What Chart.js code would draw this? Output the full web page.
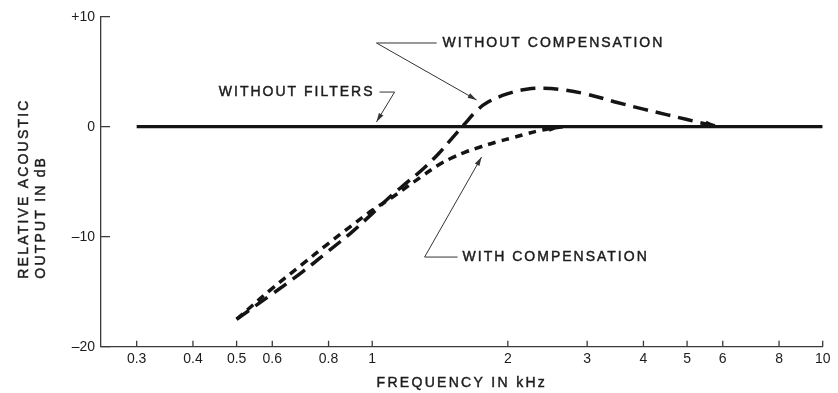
<!DOCTYPE html>
<html>
<head>
<meta charset="utf-8">
<script src="https://cdn.jsdelivr.net/npm/chart.js@4.4.0/dist/chart.umd.min.js"></script>
<style>
  html, body { margin: 0; padding: 0; background: #ffffff; }
  #wrap { width: 838px; height: 393px; }
</style>
</head>
<body>
<div id="wrap"><canvas id="chart" width="838" height="393"></canvas></div>
<script>
// Frequency response data (kHz, dB)
const freqFlat = [0.3, 10];
const dbFlat = [0, 0];

const freqNoComp = [0.5, 0.6, 0.7, 0.8, 0.9, 1.0, 1.1, 1.2, 1.3, 1.4, 1.5, 1.6, 1.7, 1.8, 2.0, 2.2, 2.4, 2.6, 3.0, 3.5, 4.0, 4.5, 5.0, 5.5, 5.9];
const dbNoComp = [-17.5, -15.2, -13.2, -11.3, -9.6, -7.9, -6.3, -5.0, -3.8, -2.5, -1.1, 0.2, 1.4, 2.2, 3.0, 3.4, 3.5, 3.4, 2.95, 2.2, 1.6, 1.1, 0.65, 0.25, 0];

const freqComp = [0.5, 0.6, 0.7, 0.8, 0.9, 1.0, 1.1, 1.2, 1.3, 1.4, 1.5, 1.6, 1.75, 1.9, 2.05, 2.2, 2.35, 2.5, 2.65];
const dbComp = [-17.5, -14.7, -12.5, -10.6, -9.0, -7.6, -6.5, -5.4, -4.4, -3.5, -2.85, -2.35, -1.8, -1.35, -1.0, -0.65, -0.35, -0.15, 0];

// Axis ticks
const xTickValues = [0.3, 0.4, 0.5, 0.6, 0.8, 1, 2, 3, 4, 5, 6, 8, 10];
const xTickLabels = ['0.3', '0.4', '0.5', '0.6', '0.8', '1', '2', '3', '4', '5', '6', '8', '10'];
const yTickValues = [-20, -10, 0, 10];
const yTickLabels = ['\u201320', '\u201310', '0', '+10'];

// Axis titles
const xTitle = 'FREQUENCY IN kHz';
const yTitleLines = ['RELATIVE ACOUSTIC', 'OUTPUT IN dB'];

// Callout labels, placed in data coordinates (kHz, dB)
const callouts = [
  { text: 'WITHOUT COMPENSATION', at: [1.433, 7.61], align: 'left',
    leader: [[1.390, 7.61], [1.022, 7.61], [1.705, 2.43]] },
  { text: 'WITHOUT FILTERS', at: [1.012, 3.15], align: 'right',
    leader: [[1.038, 3.15], [1.121, 3.15], [1.022, 0.43]] },
  { text: 'WITH COMPENSATION', at: [1.587, -11.85], align: 'left',
    leader: [[1.547, -11.85], [1.307, -11.85], [1.749, -2.75]] }
];

const INK = '#141414';
const AXIS = '#3a3a3a';
const TEXT = '#1c1c1c';
const FONT = "'Liberation Sans', Arial, sans-serif";

const toXY = (xs, ys) => xs.map((v, i) => ({ x: v, y: ys[i] }));

function arrowHead(ctx, fromX, fromY, tipX, tipY, len, half) {
  const ang = Math.atan2(tipY - fromY, tipX - fromX);
  const bx = tipX - Math.cos(ang) * len, by = tipY - Math.sin(ang) * len;
  const nx = -Math.sin(ang) * half, ny = Math.cos(ang) * half;
  ctx.beginPath();
  ctx.moveTo(tipX, tipY);
  ctx.lineTo(bx + nx, by + ny);
  ctx.lineTo(bx - nx, by - ny);
  ctx.closePath();
  ctx.fill();
}

// Lettering with a slightly heavier stroke, like stencil-guided text
function letter(ctx, str, px, py) {
  ctx.fillText(str, px, py);
  ctx.strokeText(str, px, py);
}

const inkPlugin = {
  id: 'ink',
  afterDraw(chart) {
    const { ctx, chartArea: a } = chart;
    const x = chart.scales.x, y = chart.scales.y;
    ctx.save();

    // inward tick marks
    ctx.strokeStyle = AXIS;
    ctx.lineWidth = 1.3;
    ctx.beginPath();
    x.ticks.forEach(t => {
      const px = x.getPixelForValue(t.value);
      ctx.moveTo(px, a.bottom);
      ctx.lineTo(px, a.bottom - 6);
    });
    y.ticks.forEach(t => {
      const py = y.getPixelForValue(t.value);
      ctx.moveTo(a.left, py);
      ctx.lineTo(a.left + 9, py);
    });
    ctx.stroke();

    // arrow tips at the ends of the dashed curves
    ctx.fillStyle = INK;
    [1, 2].forEach(i => {
      const pts = chart.getDatasetMeta(i).data;
      const p = pts[pts.length - 1], q = pts[pts.length - 2];
      arrowHead(ctx, q.x, q.y, p.x, p.y, 14, 3.2);
    });

    // callouts
    ctx.letterSpacing = '2px';
    ctx.font = '14px ' + FONT;
    ctx.textBaseline = 'middle';
    callouts.forEach(c => {
      ctx.fillStyle = TEXT;
      ctx.strokeStyle = TEXT;
      ctx.lineWidth = 0.45;
      ctx.textAlign = c.align;
      letter(ctx, c.text, x.getPixelForValue(c.at[0]), y.getPixelForValue(c.at[1]));
      const pts = c.leader.map(p => [x.getPixelForValue(p[0]), y.getPixelForValue(p[1])]);
      ctx.strokeStyle = '#333';
      ctx.lineWidth = 1;
      ctx.beginPath();
      pts.forEach((p, k) => k ? ctx.lineTo(p[0], p[1]) : ctx.moveTo(p[0], p[1]));
      ctx.stroke();
      const n = pts.length;
      ctx.fillStyle = '#333';
      arrowHead(ctx, pts[n - 2][0], pts[n - 2][1], pts[n - 1][0], pts[n - 1][1], 9, 2.6);
    });

    // axis titles
    ctx.fillStyle = TEXT;
    ctx.strokeStyle = TEXT;
    ctx.lineWidth = 0.45;
    ctx.textAlign = 'center';
    ctx.letterSpacing = '2.3px';
    letter(ctx, xTitle, (a.left + a.right) / 2, 383);

    ctx.save();
    ctx.translate(0, a.bottom - 68);
    ctx.rotate(-Math.PI / 2);
    ctx.textAlign = 'left';
    ctx.letterSpacing = '2.2px';
    yTitleLines.forEach((line, k) => letter(ctx, line, 0, 24 + k * 17));
    ctx.restore();

    ctx.restore();
  }
};

const tickFont = { family: FONT, size: 14 };

new Chart(document.getElementById('chart'), {
  type: 'line',
  data: {
    datasets: [
      { label: 'Without filters', data: toXY(freqFlat, dbFlat),
        borderColor: INK, borderWidth: 3.2, pointRadius: 0, tension: 0 },
      { label: 'Without compensation', data: toXY(freqNoComp, dbNoComp),
        borderColor: INK, borderWidth: 3.5, borderDash: [15, 8], pointRadius: 0,
        tension: 0.4 },
      { label: 'With compensation', data: toXY(freqComp, dbComp),
        borderColor: INK, borderWidth: 3.5, borderDash: [8, 6], pointRadius: 0,
        tension: 0.4 }
    ]
  },
  options: {
    responsive: false,
    animation: false,
    devicePixelRatio: 1,
    layout: { padding: { top: 16.7, right: 15.3, bottom: 0, left: 0 } },
    plugins: { legend: { display: false }, tooltip: { enabled: false } },
    scales: {
      x: {
        type: 'logarithmic',
        min: 0.25,
        max: 10,
        grid: { display: false, drawTicks: false },
        border: { display: true, color: AXIS, width: 1.3 },
        ticks: {
          autoSkip: false, maxRotation: 0, padding: 4, color: TEXT, font: tickFont,
          callback: (v, i) => xTickLabels[i]
        },
        afterBuildTicks: s => { s.ticks = xTickValues.map(v => ({ value: v })); },
        afterFit: s => { s.height = 46.3; }
      },
      y: {
        type: 'linear',
        min: -20,
        max: 10,
        grid: { display: false, drawTicks: false },
        border: { display: true, color: AXIS, width: 1.3 },
        ticks: {
          padding: 6, color: TEXT, font: tickFont,
          callback: (v, i) => yTickLabels[i]
        },
        afterBuildTicks: s => { s.ticks = yTickValues.map(v => ({ value: v })); },
        afterFit: s => { s.width = 101; }
      }
    }
  },
  plugins: [inkPlugin]
});
</script>
</body>
</html>
